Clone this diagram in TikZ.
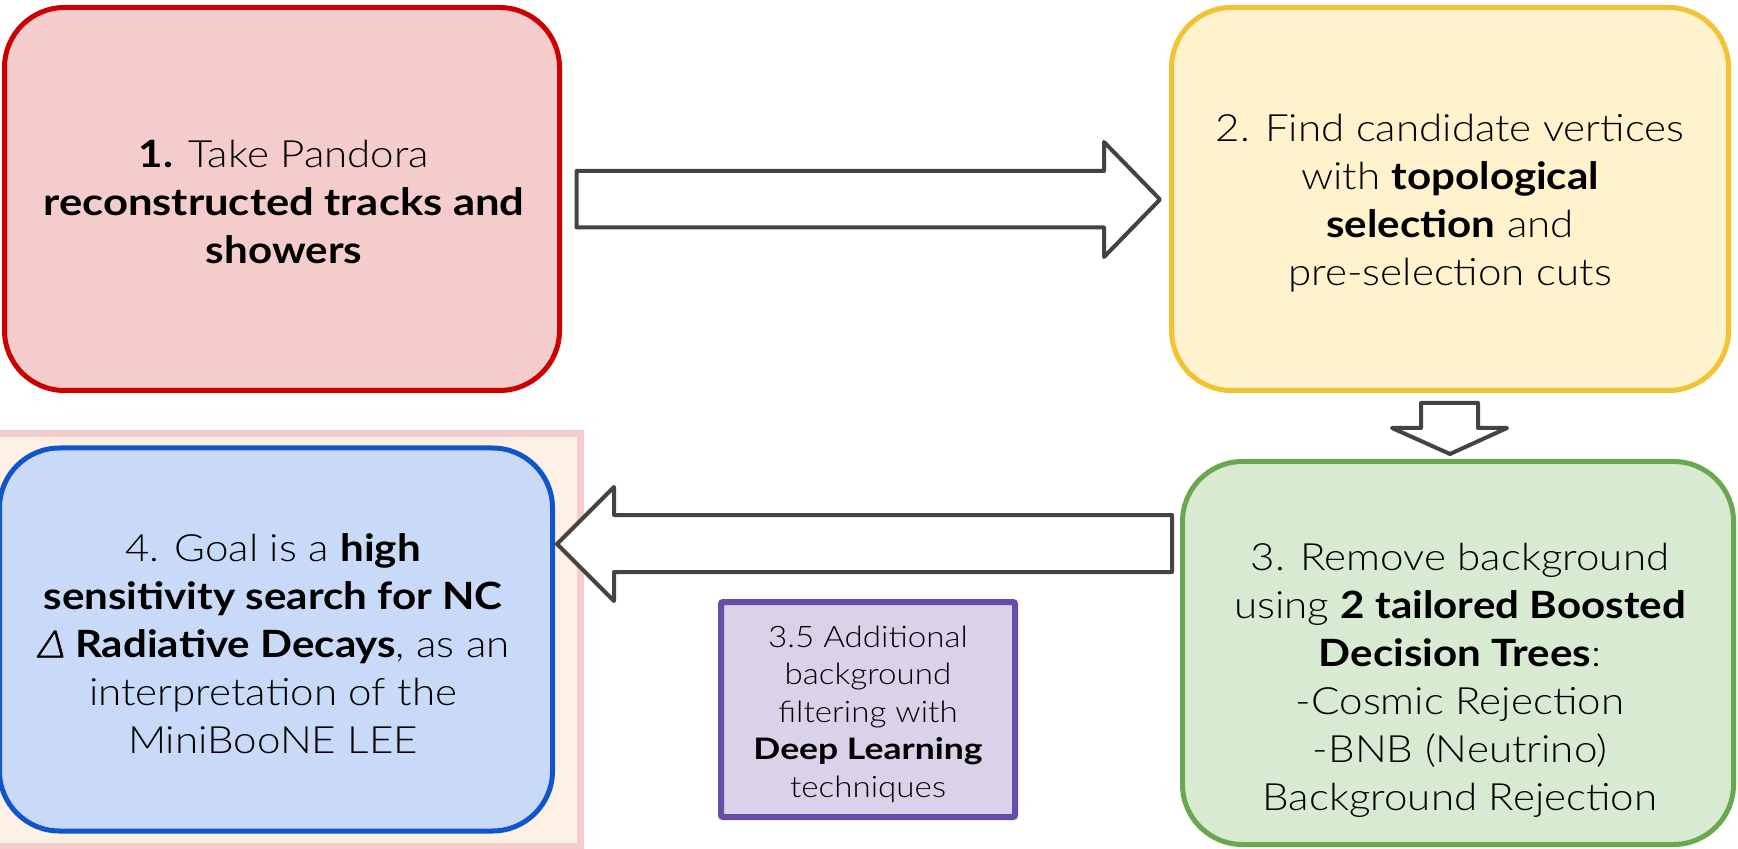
\documentclass[tikz,border=0pt]{standalone}
\usepackage{fontspec}
\setmainfont{Lato Light}[BoldFont={Lato Bold}, ItalicFont={Lato Light Italic}, FakeStretch=1.12]
\usetikzlibrary{positioning}
\definecolor{redfill}{HTML}{F4CCCC}
\definecolor{redline}{HTML}{CC0000}
\definecolor{yelfill}{HTML}{FFF2CC}
\definecolor{yelline}{HTML}{F1C232}
\definecolor{grnfill}{HTML}{D9EAD3}
\definecolor{grnline}{HTML}{6AA84F}
\definecolor{blufill}{HTML}{C9DAF8}
\definecolor{bluline}{HTML}{1155CC}
\definecolor{purfill}{HTML}{D9D2E9}
\definecolor{purline}{HTML}{674EA7}
\definecolor{bgfill}{HTML}{FDF0E4}
\definecolor{bgline}{HTML}{F4CCCC}
\definecolor{arrline}{HTML}{434343}
\tikzset{
  stepbox/.style={rectangle, rounded corners=30pt, line width=2.5pt, outer sep=0pt, inner sep=0pt,
    minimum height=191.5pt},
  bigtxt/.style={align=center, inner sep=0pt, font=\fontsize{18.8}{24}\selectfont},
  smalltxt/.style={align=center, inner sep=0pt, font=\fontsize{14.8}{18.75}\selectfont},
  blockarrow/.style={draw=arrline, fill=white, line width=2pt, line join=round},
}
\begin{document}
\begin{tikzpicture}[x=0.5pt, y=-0.5pt]
\useasboundingbox (0,0) rectangle (1738,849);
\clip (0,0) rectangle (1738,849);
\fill[white] (0,0) rectangle (1738,849);
% background panel behind box 4
\draw[fill=bgfill, draw=bgline, line width=3.5pt] (-20,433.5) rectangle (580.5,846);
% boxes
\node[stepbox, draw=redline, fill=redfill, minimum width=277.5pt] (b1) at (282,199) {};
\node[stepbox, draw=yelline, fill=yelfill, minimum width=278.5pt] (b2) at (1450,199) {};
\node[stepbox, draw=grnline, fill=grnfill, minimum width=275.5pt] (b3) at (1458,653) {};
\node[stepbox, draw=bluline, fill=blufill, minimum width=276.5pt] (b4) at (276,639.5) {};
\node[rectangle, draw=purline, fill=purfill, line width=3pt, rounded corners=1pt, outer sep=0pt,
      minimum width=147pt, minimum height=107.5pt] (b5) at (868,709.5) {};
% texts
\node[bigtxt] (t1) at (284,202) {\textbf{1.} Take Pandora\\ \textbf{\addfontfeature{FakeStretch=1.16}reconstructed tracks and}\\ \textbf{showers}};
\node[bigtxt] (t2) at (1450,203) {2. Find candidate vertices\\ with \textbf{topological}\\ \textbf{selection} and\\ pre-selection cuts};
\node[bigtxt] (t3) at (1460,680) {3. Remove background\\ using \textbf{2 tailored Boosted}\\ \textbf{Decision Trees}:\\ -Cosmic Rejection\\ -BNB (Neutrino)\\ Background Rejection};
\node[bigtxt] (t4) at (273,643.5) {4. Goal is a \textbf{high}\\ \textbf{sensitivity search for NC}\\ {\addfontfeature{FakeSlant=0.2,FakeBold=1}Δ} \textbf{Radiative Decays}, as an\\ interpretation of the\\ MiniBooNE LEE};
\node[smalltxt] (t5) at (868,714) {3.5 Additional\\ background\\ filtering with\\ \textbf{\addfontfeature{FakeStretch=1.2}Deep Learning}\\ techniques};
% block arrows
\draw[blockarrow] (576.5,171) -- (1104,171) -- (1104,142) -- (1160,199.5) -- (1104,257) -- (1104,227.5) -- (576.5,227.5) -- cycle;
\draw[blockarrow] (1172,515) -- (614,515) -- (614,487) -- (557,544) -- (614,601) -- (614,572) -- (1172,572) -- cycle;
\draw[blockarrow] (1421,403) -- (1478,403) -- (1478,428) -- (1507,428) -- (1450,454) -- (1392,428) -- (1421,428) -- cycle;
\end{tikzpicture}
\end{document}
